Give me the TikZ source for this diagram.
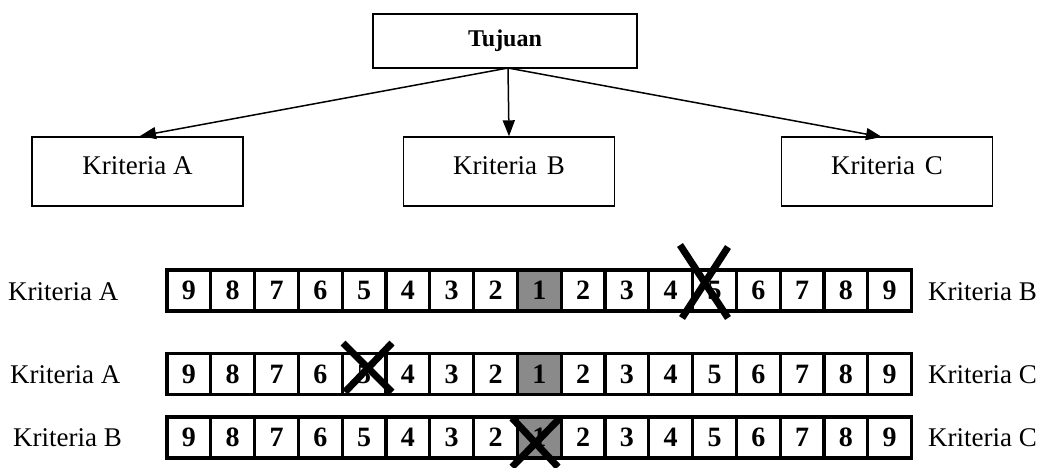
\documentclass[tikz,border=0pt]{standalone}
\usepackage{fontspec}
\setmainfont{Liberation Serif}
\usetikzlibrary{arrows.meta}
\definecolor{cellgray}{RGB}{138,138,138}
\begin{document}
\begin{tikzpicture}[x=1pt,y=-1pt,
  lbl/.style={font=\fontsize{27}{32}\selectfont, inner sep=0pt},
  goalbox/.style={draw, line width=1.4pt, minimum width=264pt, minimum height=54pt, inner sep=0pt,
                  font=\fontsize{24}{28}\selectfont\bfseries},
  critbox/.style={draw, line width=1.4pt, minimum width=211pt, minimum height=69pt, inner sep=0pt},
  cellbox/.style={draw, line width=3.2pt, minimum width=43.8pt, minimum height=41pt, inner sep=0pt,
                  font=\fontsize{28}{32}\selectfont\bfseries},
  onecell/.style={cellbox, fill=cellgray},
  link/.style={line width=1.5pt, -{Triangle[length=16pt,width=12pt]}},
  cross/.style={line width=7pt}
]
\useasboundingbox (0,0) rectangle (1040,467);

% goal and criteria
\node[goalbox] (goal) at (505,41) {Tujuan};
\node[critbox] (ka) at (137.5,171.5) {};
\node[critbox] (kb) at (509,171.5) {};
\node[critbox] (kc) at (887,171.5) {};
\node[lbl] (kat) at (137.5,166) {Kriteria A};
\node[lbl] (kbt) at (509,166) {Kriteria\hspace{10pt}B};
\node[lbl] (kct) at (887,166) {Kriteria\hspace{10pt}C};

\coordinate (src) at (508,68);
\draw[link] (src) -- (140,136);
\draw[link] (src) -- (kb.north);
\draw[link] (src) -- (882,137);

% comparison scales
\foreach \r/\yc in {1/290.5, 2/374, 3/437.5} {
  \foreach \v [count=\i] in {9,8,7,6,5,4,3,2,1,2,3,4,5,6,7,8,9} {
    \ifnum\i=9
      \node[onecell] (r\r c\i) at ({167+(\i-0.5)*43.8},\yc) {\v};
    \else
      \node[cellbox] (r\r c\i) at ({167+(\i-0.5)*43.8},\yc) {\v};
    \fi
  }
}

% row labels
\node[lbl, anchor=west] (l1) at (8,292) {Kriteria A};
\node[lbl, anchor=west] (l2) at (10,375) {Kriteria A};
\node[lbl, anchor=west] (l3) at (13,438) {Kriteria B};
\node[lbl, anchor=west] (q1) at (928,292) {Kriteria B};
\node[lbl, anchor=west] (q2) at (928,375) {Kriteria C};
\node[lbl, anchor=west] (q3) at (928,438) {Kriteria C};

% crossed-out choices
\draw[cross] (680,245) -- (728,318);
\draw[cross] (728,247) -- (682,318);
\draw[cross] (343,343) -- (392,392);
\draw[cross] (392,343) -- (345,392);
\draw[cross] (512,418) -- (558,467);
\draw[cross] (560,418) -- (512,467);
\end{tikzpicture}
\end{document}
